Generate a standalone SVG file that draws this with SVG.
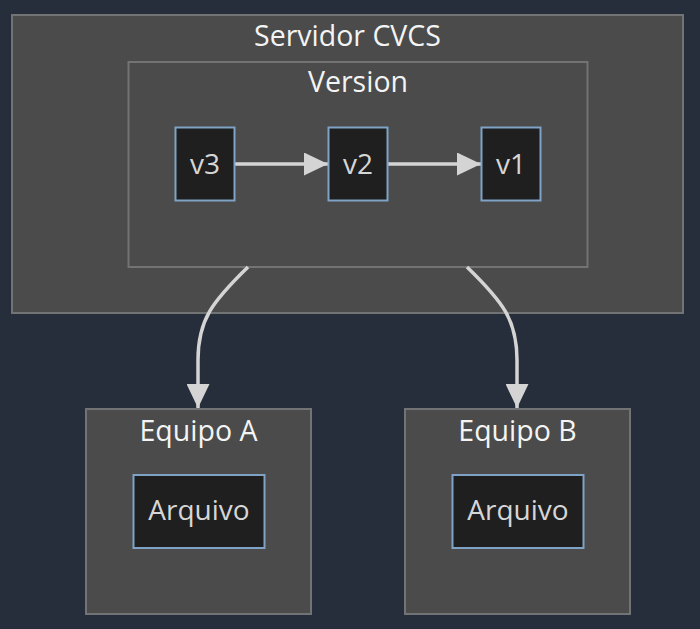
<svg xmlns="http://www.w3.org/2000/svg" width="700" height="629" viewBox="0 0 700 629">
<style>
.cluster{fill:#4a4b4a;stroke:#727374;stroke-width:2}
.node{fill:#1f1f1f;stroke:#7fa3c6;stroke-width:2}
.clabel{font-family:"Open Sans","DejaVu Sans",sans-serif;font-size:28.5px;fill:#f4f4f4;text-anchor:middle}
.nlabel{font-family:"Open Sans","DejaVu Sans",sans-serif;font-size:28px;fill:#d6d6d6;text-anchor:middle}
.edge{fill:none;stroke:#d4d4d4;stroke-width:3.5}
</style>
<defs>
<marker id="arr" viewBox="0 0 24 23" refX="24" refY="11.5" markerWidth="24" markerHeight="23" markerUnits="userSpaceOnUse" orient="auto">
<path d="M0,0 L24,11.5 L0,23 Z" fill="#d4d4d4"/>
</marker>
</defs>
<rect width="700" height="629" fill="#272e3b"/>
<g id="servidor">
<rect class="cluster" x="12" y="15" width="671" height="298"/>
<text class="clabel" x="347.5" y="46">Servidor CVCS</text>
</g>
<g id="version">
<rect class="cluster" x="128.5" y="62" width="459" height="205"/>
<text class="clabel" x="358" y="92">Version</text>
</g>
<g id="equipoA">
<rect class="cluster" x="86" y="409" width="225" height="205"/>
<text class="clabel" x="198.5" y="441">Equipo A</text>
</g>
<g id="equipoB">
<rect class="cluster" x="405" y="409" width="225" height="205"/>
<text class="clabel" x="517.5" y="441">Equipo B</text>
</g>
<g id="connectors">
<path class="edge" d="M235,164 L328,164" marker-end="url(#arr)"/>
<path class="edge" d="M388,164 L481,164" marker-end="url(#arr)"/>
<path class="edge" d="M248,267 C212,302 198,320 198,360 L198,408" marker-end="url(#arr)"/>
<path class="edge" d="M467,267 C503,302 517,320 517,360 L517,408" marker-end="url(#arr)"/>
</g>
<g id="v3">
<rect class="node" x="175.5" y="127.5" width="59" height="73"/>
<text class="nlabel" x="205" y="174">v3</text>
</g>
<g id="v2">
<rect class="node" x="328.5" y="127.5" width="59" height="73"/>
<text class="nlabel" x="358" y="174">v2</text>
</g>
<g id="v1">
<rect class="node" x="481.5" y="127.5" width="59" height="73"/>
<text class="nlabel" x="511" y="174">v1</text>
</g>
<g id="arquivoA">
<rect class="node" x="133.5" y="475" width="131" height="73"/>
<text class="nlabel" x="199" y="520">Arquivo</text>
</g>
<g id="arquivoB">
<rect class="node" x="452.5" y="475" width="131" height="73"/>
<text class="nlabel" x="518" y="520">Arquivo</text>
</g>
</svg>
